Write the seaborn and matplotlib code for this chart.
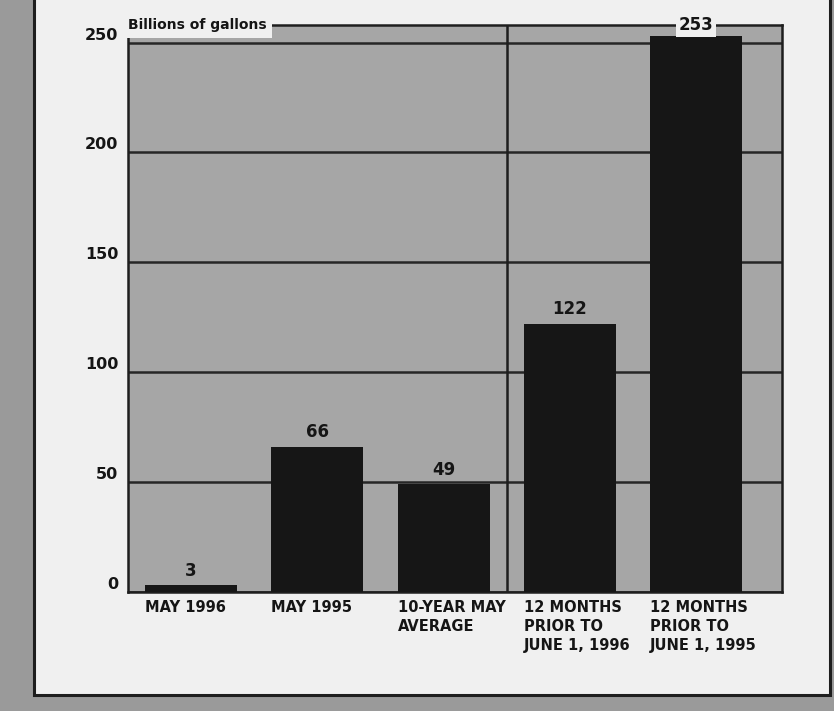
import pandas as pd
import seaborn as sns
import matplotlib.pyplot as plt
from matplotlib.patches import Rectangle

categories = ["MAY 1996", "MAY 1995", "10-YEAR MAY\nAVERAGE",
              "12 MONTHS\nPRIOR TO\nJUNE 1, 1996", "12 MONTHS\nPRIOR TO\nJUNE 1, 1995"]
values = [3, 66, 49, 122, 253]
yticks = [0, 50, 100, 150, 200, 250]

df = pd.DataFrame({"period": categories, "gallons": values})

sns.set_style("white")
plt.rcParams['font.family'] = ['DejaVu Sans']
plt.rcParams['font.weight'] = 'bold'
plt.rcParams['text.color'] = '#151515'
plt.rcParams['xtick.color'] = '#151515'
plt.rcParams['ytick.color'] = '#151515'

fig = plt.figure(figsize=(8.34, 7.11), dpi=100, facecolor='#9a9a9a')
# white panel of the clipping
fig.patches.append(Rectangle((34 / 834, 1 - 695 / 711), (830 - 34) / 834, 0.99,
                             transform=fig.transFigure, facecolor='#f0f0f0',
                             edgecolor='#1e1e1e', lw=2.2, zorder=-1))

ax = fig.add_axes([128 / 834, 1 - 592 / 711, (782 - 128) / 834, (592 - 25) / 711])
ax.set_facecolor('#a6a6a6')

bw = 0.73
sns.barplot(data=df, x="period", y="gallons", color='#161616', width=bw,
            saturation=1, linewidth=0, ax=ax, zorder=3)

ax.set_xlim(-0.5, 4.68)
ax.set_ylim(0, 258)
ax.set_xlabel("")
ax.set_ylabel("")

for s in ax.spines.values():
    s.set_color('#1e1e1e')
    s.set_linewidth(1.8)

ax.set_yticks(yticks)
ax.set_yticklabels([str(v) for v in yticks], fontsize=11.5, fontweight='bold', va='bottom')
ax.yaxis.grid(True, color='#262626', lw=1.8)
ax.set_axisbelow(True)
ax.tick_params(axis='both', length=0)
ax.tick_params(axis='y', pad=7)

ax.set_xticks([i - bw / 2 for i in range(len(categories))])
ax.set_xticklabels(categories, ha='left', va='top', fontsize=10.5,
                   fontweight='bold', linespacing=1.3)
ax.tick_params(axis='x', pad=6)

# divider between monthly and yearly figures
ax.axvline(2.5, color='#1e1e1e', lw=1.8, zorder=2)

for i, v in enumerate(values):
    if v > 250:
        ax.text(i, 258, str(v), ha='center', va='center', fontsize=12, fontweight='bold',
                bbox=dict(facecolor='#f0f0f0', edgecolor='none', pad=2), zorder=5, clip_on=False)
    else:
        ax.annotate(str(v), (i, v), xytext=(0, 4), textcoords='offset points',
                    ha='center', va='bottom', fontsize=12, fontweight='bold', zorder=5)

ax.text(0.0, 1.0, "Billions of gallons", transform=ax.transAxes, ha='left', va='center',
        fontsize=10, fontweight='bold',
        bbox=dict(facecolor='#f0f0f0', edgecolor='none', pad=4), zorder=5, clip_on=False)

fig.savefig("out.png", dpi=100, facecolor=fig.get_facecolor())
